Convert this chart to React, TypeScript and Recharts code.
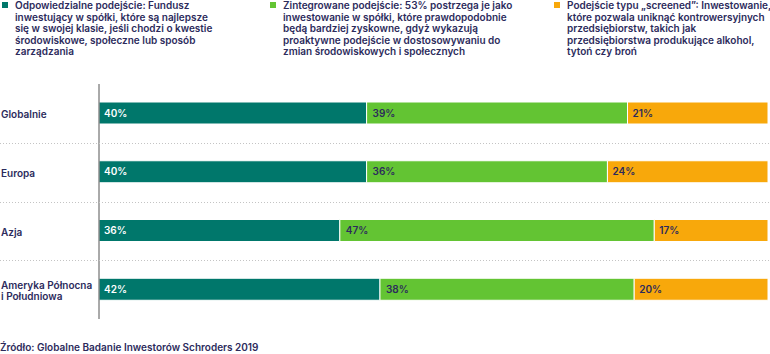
import { BarChart, Bar, XAxis, YAxis, LabelList } from "recharts"

const categories = ["Globalnie", "Europa", "Azja", "Ameryka Północna\ni Południowa"]
const responsible = [40, 40, 36, 42]
const integrated = [39, 36, 47, 38]
const screened = [21, 24, 17, 20]

const legendTexts = [
  [
    "Odpowiedzialne podejście: Fundusz",
    "inwestujący w spółki, które są najlepsze",
    "się w swojej klasie, jeśli chodzi o kwestie",
    "środowiskowe, społeczne lub sposób",
    "zarządzania",
  ],
  [
    "Zintegrowane podejście: 53% postrzega je jako",
    "inwestowanie w spółki, które prawdopodobnie",
    "będą bardziej zyskowne, gdyż wykazują",
    "proaktywne podejście w dostosowywaniu do",
    "zmian środowiskowych i społecznych",
  ],
  [
    "Podejście typu „screened”: Inwestowanie,",
    "które pozwala uniknąć kontrowersyjnych",
    "przedsiębiorstw, takich jak",
    "przedsiębiorstwa produkujące alkohol,",
    "tytoń czy broń",
  ],
]
const source = "Źródło: Globalne Badanie Inwestorów Schroders 2019"

const COLORS = ["#00776b", "#63c433", "#f8a80b"]
const NAVY = "#2c2b5c"
const FONT = "Inter, 'Noto Sans', sans-serif"

const W = 770
const H = 354
const MARGIN = { top: 84, right: 2, bottom: 35, left: 0 }

const data = categories.map((name, i) => ({
  name,
  responsible: responsible[i],
  integrated: integrated[i],
  screened: screened[i],
}))

const pct = (v: any) => `${v}%`

function CategoryTick(props: any) {
  const { y, payload, index } = props
  const lines = String(payload.value).split("\n")
  const step = (H - MARGIN.top - MARGIN.bottom) / categories.length
  const startY = y - ((lines.length - 1) * 11) / 2 + 2
  // dotted separator halfway between two categories, full page width
  const sepY = Math.round(y + step / 2) + 0.5
  return (
    <g>
      {index < categories.length - 1 && (
        <line x1={0} x2={W} y1={sepY} y2={sepY} stroke="#c4c4c4" strokeWidth={1} strokeDasharray="1 2" />
      )}
      <text x={1} y={startY} fill={NAVY} fontSize={10} fontWeight={600} fontFamily={FONT} dominantBaseline="middle">
        {lines.map((l, k) => (
          <tspan key={k} x={1} y={startY + k * 11}>
            {l}
          </tspan>
        ))}
      </text>
    </g>
  )
}

const legendX = [2, 270, 554]

export default function App() {
  return (
    <div style={{ position: "absolute", left: 0, top: 0, width: W, height: H, background: "#fff", fontFamily: FONT }}>
      {legendTexts.map((lines, i) => (
        <div key={i} style={{ position: "absolute", left: legendX[i], top: 0 }}>
          <div style={{ position: "absolute", left: 0, top: 2, width: 6, height: 6, background: COLORS[i] }} />
          <div
            style={{
              position: "absolute",
              left: 13,
              top: 0,
              whiteSpace: "nowrap",
              fontSize: 10,
              lineHeight: "11.5px",
              fontWeight: 600,
              color: NAVY,
            }}
          >
            {lines.map((l, k) => (
              <div key={k}>{l}</div>
            ))}
          </div>
        </div>
      ))}
      <BarChart width={W} height={H} data={data} layout="vertical" margin={MARGIN} barSize={22}>
        <XAxis type="number" domain={[0, 100]} hide />
        <YAxis
          type="category"
          dataKey="name"
          width={99}
          axisLine={{ stroke: "#555", strokeWidth: 1 }}
          tickLine={false}
          tick={<CategoryTick />}
          interval={0}
        />
        <Bar dataKey="responsible" stackId="a" fill={COLORS[0]} stroke="#fff" strokeWidth={1} isAnimationActive={false}>
          <LabelList dataKey="responsible" position="insideLeft" offset={5} formatter={pct} fill="#fff" fontSize={10} fontWeight={600} fontFamily={FONT} />
        </Bar>
        <Bar dataKey="integrated" stackId="a" fill={COLORS[1]} stroke="#fff" strokeWidth={1} isAnimationActive={false}>
          <LabelList dataKey="integrated" position="insideLeft" offset={6} formatter={pct} fill={NAVY} fontSize={10} fontWeight={600} fontFamily={FONT} />
        </Bar>
        <Bar dataKey="screened" stackId="a" fill={COLORS[2]} stroke="#fff" strokeWidth={1} isAnimationActive={false}>
          <LabelList dataKey="screened" position="insideLeft" offset={5} formatter={pct} fill={NAVY} fontSize={10} fontWeight={600} fontFamily={FONT} />
        </Bar>
      </BarChart>
      <div style={{ position: "absolute", left: 0, top: 341, fontSize: 10, fontWeight: 600, color: NAVY, whiteSpace: "nowrap" }}>
        {source}
      </div>
    </div>
  )
}
